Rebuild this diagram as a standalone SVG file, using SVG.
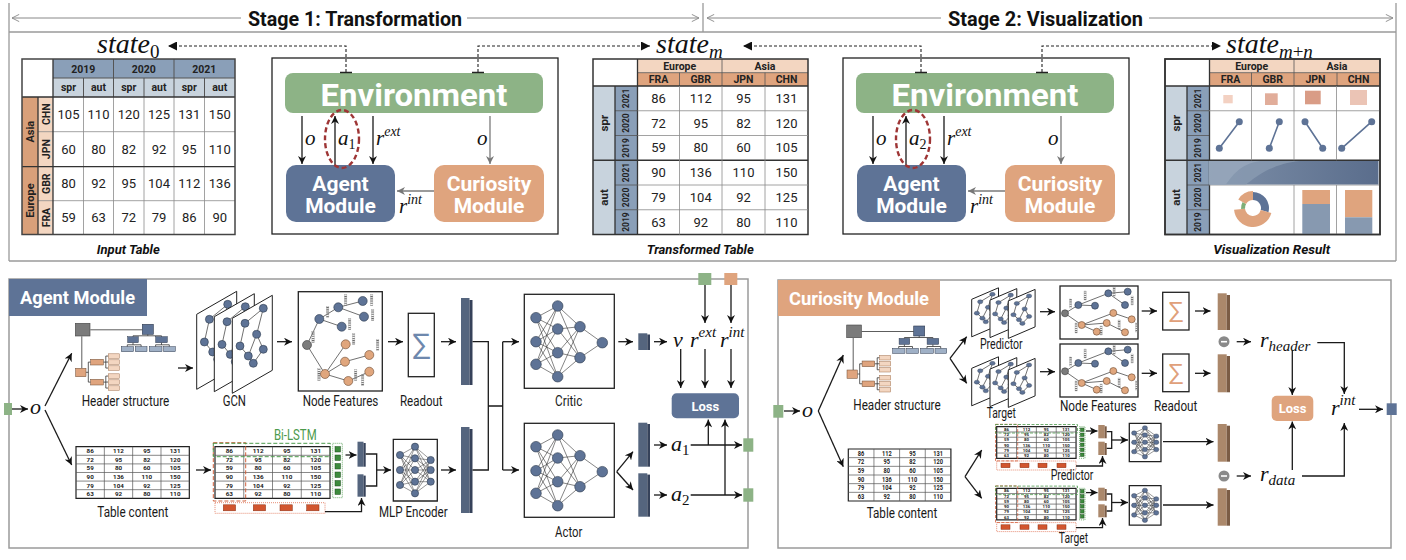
<svg xmlns="http://www.w3.org/2000/svg" width="1406" height="560" viewBox="0 0 1406 560">
<style>
text{font-family:Roboto,"Liberation Sans",Arial,sans-serif}
.lbl{font-size:14px;fill:#1a1a1a;text-anchor:middle}
.cap{font-size:13.5px;font-weight:bold;font-style:italic;fill:#111;text-anchor:middle}
.m{font-family:"Liberation Serif","DejaVu Serif",serif;font-style:italic;fill:#111}
.up{font-style:normal}
.ln{stroke:#1a1a1a;stroke-width:1.3;fill:none}
.lng{stroke:#7a7a7a;stroke-width:1.3;fill:none}
.dsh{stroke:#222;stroke-width:1.1;fill:none;stroke-dasharray:3 2}
.nd{fill:#5e7396;stroke:#2e3a4e;stroke-width:0.6}
.on{fill:#e0a67d;stroke:#6b4a33;stroke-width:0.6}
.gn{fill:#7b7b7b;stroke:#3a3a3a;stroke-width:0.6}
.ed{stroke:#333;stroke-width:0.7;fill:none}
.bx{fill:#fff;stroke:#222;stroke-width:1.3}
.sb{fill:#55657e}
.sbd{fill:#36425a}
.bb{fill:#ab886b}
.bbd{fill:#7b5c45}
.tn{font-size:13px;text-anchor:middle;fill:#222}
.th{font-size:10.5px;font-weight:bold;text-anchor:middle;fill:#222}
.yr{font-size:8.5px;font-weight:bold;text-anchor:middle;fill:#222}
.tt{font-size:6.3px;font-weight:bold;text-anchor:middle;fill:#222}
.wt{fill:#fff;font-weight:bold;text-anchor:middle}
.hb{fill:url(#hp);stroke:#999;stroke-width:0.3}
.gl{stroke:#8a8a8a;stroke-width:0.8;fill:none}
.dl{stroke:#333;stroke-width:1.3;fill:none}
.frame{stroke:#9a9a9a;stroke-width:1.3;fill:none}
.gsq{fill:#8db386}
.rd{fill:none;stroke:#d0603c;stroke-width:1;stroke-dasharray:4 2}
.gd{fill:none;stroke:#4c9a4c;stroke-width:1;stroke-dasharray:4 2}
.rds{fill:none;stroke:#d0603c;stroke-width:0.8;stroke-dasharray:3 1.5}
.gds{fill:none;stroke:#4c9a4c;stroke-width:0.8;stroke-dasharray:3 1.5}
.gdot{fill:none;stroke:#4c9a4c;stroke-width:0.8;stroke-dasharray:1 1}
.rdot{fill:none;stroke:#e07050;stroke-width:0.8;stroke-dasharray:1 1}
.gs{fill:#3d8b3d;stroke:#1d4d1d;stroke-width:0.5}
.rs{fill:#d2552e;stroke:#8a2e12;stroke-width:0.5}
</style>
<defs>
<marker id="ah" viewBox="0 0 10 10" refX="10" refY="5" markerWidth="8" markerHeight="8" markerUnits="userSpaceOnUse" orient="auto"><path d="M0,0L10,5L0,10L3,5z" fill="#111"/></marker>
<marker id="ahg" viewBox="0 0 10 10" refX="10" refY="5" markerWidth="8" markerHeight="8" markerUnits="userSpaceOnUse" orient="auto"><path d="M0,0L10,5L0,10L3,5z" fill="#777"/></marker>
<marker id="ahs" viewBox="0 0 10 10" refX="10" refY="5" markerWidth="9" markerHeight="9" markerUnits="userSpaceOnUse" orient="auto"><path d="M0,0L10,5L0,10z" fill="#111"/></marker>
<marker id="chev" viewBox="0 0 10 10" refX="9" refY="5" markerWidth="9" markerHeight="9" markerUnits="userSpaceOnUse" orient="auto-start-reverse"><path d="M1,1L9,5L1,9" fill="none" stroke="#888" stroke-width="1"/></marker>
<pattern id="hp" width="3" height="2.2" patternUnits="userSpaceOnUse"><rect width="3" height="1.1" fill="#666"/></pattern>
<linearGradient id="band" x1="0" y1="0" x2="1" y2="0"><stop offset="0" stop-color="#7d8fa8"/><stop offset="1" stop-color="#5a6d8c"/></linearGradient>

<g id="envBody">
 <rect x="272" y="58" width="286" height="176" fill="#fff" stroke="#222" stroke-width="1.3"/>
 <rect x="285" y="73" width="258" height="40" rx="8" fill="#8db386"/>
 <text x="414" y="105.5" class="wt" font-size="32" textLength="187" lengthAdjust="spacingAndGlyphs">Environment</text>
 <rect x="286" y="165" width="109" height="57" rx="10" fill="#5e7396"/>
 <text x="340.5" y="191" class="wt" font-size="21">Agent</text>
 <text x="340.5" y="213" class="wt" font-size="21">Module</text>
 <rect x="434" y="165" width="110" height="57" rx="10" fill="#dfa47e"/>
 <text x="489" y="191" class="wt" font-size="21">Curiosity</text>
 <text x="489" y="213" class="wt" font-size="21">Module</text>
 <path d="M302,116V164" class="ln" marker-end="url(#ah)"/>
 <path d="M335,165V116" class="ln" marker-end="url(#ah)"/>
 <path d="M373,116V164" class="ln" marker-end="url(#ah)"/>
 <path d="M490,116V164" class="lng" marker-end="url(#ahg)"/>
 <path d="M434,191H397" class="lng" marker-end="url(#ahg)"/>
 <text class="m" x="305" y="145" font-size="21">o</text>
 <text class="m" x="376" y="145" font-size="21">r<tspan font-size="14" dy="-9">ext</tspan></text>
 <text class="m" x="477" y="145" font-size="21">o</text>
 <text class="m" x="399" y="213" font-size="21">r<tspan font-size="14" dy="-9">int</tspan></text>
 <ellipse cx="342" cy="139" rx="17" ry="29" fill="none" stroke="#9e3535" stroke-width="2.4" stroke-dasharray="5 3"/>
</g>

<g id="tframe">
 <rect x="593" y="59" width="215" height="175.5" fill="#fff"/>
 <rect x="637.5" y="59" width="170.5" height="13.7" fill="#f3d6c1"/>
 <rect x="637.5" y="72.7" width="170.5" height="13.3" fill="#dfa47e"/>
 <rect x="593" y="86" width="22" height="148.5" fill="#c8d3dd"/>
 <rect x="615" y="86" width="22.5" height="148.5" fill="#8a9fb8"/>
 <path d="M637.5,72.7H808M722,59V86M679.5,72.7V86M765,72.7V86M615,110.75H637.5M615,135.5H637.5M615,185H637.5M615,209.75H637.5" stroke="#555" stroke-width="0.8"/>
 <path d="M593,86H808M593,160.25H808M615,86V234.5M637.5,59V234.5" class="dl"/>
 <rect x="593" y="59" width="215" height="175.5" fill="none" stroke="#333" stroke-width="1.5"/>
 <text class="th" x="679.75" y="69.8">Europe</text>
 <text class="th" x="765" y="69.8">Asia</text>
 <text class="th" x="658.5" y="83.2">FRA</text>
 <text class="th" x="700.75" y="83.2">GBR</text>
 <text class="th" x="743.5" y="83.2">JPN</text>
 <text class="th" x="786.5" y="83.2">CHN</text>
 <text class="yr" transform="translate(629.3,98.4) rotate(-90)">2021</text>
 <text class="yr" transform="translate(629.3,123.1) rotate(-90)">2020</text>
 <text class="yr" transform="translate(629.3,147.9) rotate(-90)">2019</text>
 <text class="yr" transform="translate(629.3,172.6) rotate(-90)">2021</text>
 <text class="yr" transform="translate(629.3,197.4) rotate(-90)">2020</text>
 <text class="yr" transform="translate(629.3,222.1) rotate(-90)">2019</text>
 <text class="th" style="font-size:11.5px" transform="translate(608,123.1) rotate(-90)">spr</text>
 <text class="th" style="font-size:11.5px" transform="translate(608,197.4) rotate(-90)">aut</text>
</g>

<g id="htree">
 <path d="M15,6.5H67M6.5,13V45M72.5,11V12.5M57.7,12.5H86.2M57.7,12.5V13.5M86.2,12.5V13.5M57.7,19.4V21.5M52,21.5H65.8M52,21.5V23.4M65.8,21.5V23.4M86.2,19.4V21.5M80.3,21.5H94M80.3,21.5V23.4M94,21.5V23.4M10.7,49H13M13,38.8V58.8M13,38.8H15.4M13,58.8H15.4M28,38.8H30.5M30.5,32.75V44.75M30.5,32.75H33M30.5,38.75H33M30.5,44.75H33M28,58.8H30.5M30.5,52.75V64.75M30.5,52.75H33M30.5,58.75H33M30.5,64.75H33" stroke="#333" stroke-width="0.8" fill="none"/>
 <rect x="0" y="0" width="14.7" height="12.7" fill="#7b7b7b" stroke="#444" stroke-width="0.6"/>
 <rect x="67" y="1" width="11" height="10" fill="#5e7396" stroke="#2e3a4e" stroke-width="0.6"/>
 <rect x="52.4" y="13.4" width="10.6" height="6" fill="#5e7396" stroke="#2e3a4e" stroke-width="0.5"/>
 <rect x="80.4" y="13.4" width="11.6" height="6" fill="#5e7396" stroke="#2e3a4e" stroke-width="0.5"/>
 <g fill="#9fb0c6" stroke="#2e3a4e" stroke-width="0.5">
  <rect x="46" y="23.4" width="12.3" height="5"/><rect x="60" y="23.4" width="11.7" height="5"/><rect x="74" y="23.4" width="12.7" height="5"/><rect x="88.3" y="23.4" width="11.7" height="5"/>
 </g>
 <rect x="0.3" y="45" width="10.4" height="8.4" fill="#dfa47e" stroke="#6b4a33" stroke-width="0.5"/>
 <rect x="15.4" y="36" width="12.6" height="5.7" fill="#dfa47e" stroke="#6b4a33" stroke-width="0.5"/>
 <rect x="15.4" y="56" width="12.6" height="5.7" fill="#dfa47e" stroke="#6b4a33" stroke-width="0.5"/>
 <g fill="#f3d6c1" stroke="#a0704f" stroke-width="0.5">
  <rect x="33" y="30.5" width="11" height="4.5"/><rect x="33" y="36.5" width="11" height="4.5"/><rect x="33" y="42.5" width="11" height="4.5"/>
  <rect x="33" y="50.5" width="11" height="4.5"/><rect x="33" y="56.5" width="11" height="4.5"/><rect x="33" y="62.5" width="11" height="4.5"/>
 </g>
</g>

<g id="sheet">
 <polygon points="0,23 40,0 40,75 0,98" fill="#fff" stroke="#222" stroke-width="1" vector-effect="non-scaling-stroke"/>
 <path d="M31,13L12.7,28M31,13L24.4,39M12.7,28L7.7,50.7M24.4,39L31,54M24.4,39L16,60.7M7.7,50.7L16,60.7M16,60.7L21,68M31,54L21,68" class="ed" vector-effect="non-scaling-stroke"/>
 <g class="nd"><circle cx="31" cy="13" r="4"/><circle cx="12.7" cy="28" r="4"/><circle cx="24.4" cy="39" r="4"/><circle cx="7.7" cy="50.7" r="4"/><circle cx="31" cy="54" r="4"/><circle cx="16" cy="60.7" r="4"/><circle cx="21" cy="68" r="4"/></g>
</g>

<g id="nf">
 <rect x="0" y="0" width="84" height="99.3" class="bx"/>
 <path d="M8.7,53.3L21,27.3M8.7,53.3L26.7,82.3M21,27.3L40,15.6M21,27.3L43.4,35M40,15.6L64.4,9.3M40,15.6L65.7,25M26.7,82.3L47.4,52.6M26.7,82.3L46.7,70M26.7,82.3L50,89.3M46.7,70L71,63.3M50,89.3L71,80" class="ed"/>
 <g class="hb"><rect x="13.5" y="40" width="2.6" height="11"/><rect x="28" y="15" width="2.6" height="11"/><rect x="46" y="3" width="2.6" height="11"/><rect x="50" y="27" width="2.6" height="11"/><rect x="72" y="3" width="2.6" height="11"/><rect x="73" y="18" width="2.6" height="11"/><rect x="19.4" y="77" width="2.6" height="12"/><rect x="54" y="42" width="2.6" height="11"/><rect x="78" y="48" width="2.6" height="11"/><rect x="56" y="78" width="2.6" height="11"/><rect x="63" y="83" width="2.6" height="11"/></g>
 <circle cx="8.7" cy="53.3" r="4.5" class="gn"/>
 <g class="nd"><circle cx="21" cy="27.3" r="4.5"/><circle cx="40" cy="15.6" r="4.5"/><circle cx="43.4" cy="35" r="4.5"/><circle cx="64.4" cy="9.3" r="4.5"/><circle cx="65.7" cy="25" r="4.5"/></g>
 <g class="on"><circle cx="26.7" cy="82.3" r="4.5"/><circle cx="47.4" cy="52.6" r="4.5"/><circle cx="50" cy="89.3" r="4.5"/><circle cx="46.7" cy="70" r="4.5"/><circle cx="71" cy="63.3" r="4.5"/><circle cx="71" cy="80" r="4.5"/></g>
</g>

<g id="nfs">
 <rect x="0" y="0" width="78" height="53" class="bx"/>
 <path d="M5,27.3L18.3,19M5,27.3L21.7,39M18.3,19L35,19.7M18.3,19L48.3,7.3M48.3,7.3L67.7,5.7M48.3,7.3L65,19M21.7,39L53.3,27M21.7,39L46.7,37M21.7,39L36.7,45.7M53.3,27L71.7,33.3M46.7,37L65,46.3" class="ed"/>
 <g class="hb"><rect x="9.5" y="13" width="2.2" height="9"/><rect x="24" y="5" width="2.2" height="9"/><rect x="53" y="1.5" width="2.2" height="9"/><rect x="71" y="10" width="2.2" height="9"/><rect x="15" y="37" width="2.2" height="10"/><rect x="58" y="34" width="2.2" height="9"/><rect x="75.5" y="37" width="2.2" height="9"/><rect x="40" y="40" width="2.2" height="9"/></g>
 <circle cx="5" cy="27.3" r="3.5" class="gn"/>
 <g class="nd"><circle cx="18.3" cy="19" r="3.5"/><circle cx="35" cy="19.7" r="3.5"/><circle cx="48.3" cy="7.3" r="3.5"/><circle cx="65" cy="19" r="3.5"/><circle cx="67.7" cy="5.7" r="3.5"/></g>
 <g class="on"><circle cx="21.7" cy="39" r="3.5"/><circle cx="36.7" cy="45.7" r="3.5"/><circle cx="53.3" cy="27" r="3.5"/><circle cx="46.7" cy="37" r="3.5"/><circle cx="71.7" cy="33.3" r="3.5"/><circle cx="65" cy="46.3" r="3.5"/></g>
</g>

<g id="dtab">
 <rect x="0" y="0" width="114" height="52" fill="#fff" stroke="#222" stroke-width="1.2" vector-effect="non-scaling-stroke"/>
 <path d="M28.5,0V52M57,0V52M85.5,0V52M0,8.67H114M0,17.33H114M0,26H114M0,34.67H114M0,43.33H114" stroke="#555" stroke-width="0.7" vector-effect="non-scaling-stroke"/>
 <g class="tt">
  <text x="14.25" y="6.6">86</text><text x="42.75" y="6.6">112</text><text x="71.25" y="6.6">95</text><text x="99.75" y="6.6">131</text>
  <text x="14.25" y="15.3">72</text><text x="42.75" y="15.3">95</text><text x="71.25" y="15.3">82</text><text x="99.75" y="15.3">120</text>
  <text x="14.25" y="23.9">59</text><text x="42.75" y="23.9">80</text><text x="71.25" y="23.9">60</text><text x="99.75" y="23.9">105</text>
  <text x="14.25" y="32.6">90</text><text x="42.75" y="32.6">136</text><text x="71.25" y="32.6">110</text><text x="99.75" y="32.6">150</text>
  <text x="14.25" y="41.3">79</text><text x="42.75" y="41.3">104</text><text x="71.25" y="41.3">92</text><text x="99.75" y="41.3">125</text>
  <text x="14.25" y="49.9">63</text><text x="42.75" y="49.9">92</text><text x="71.25" y="49.9">80</text><text x="99.75" y="49.9">110</text>
 </g>
</g>

<g id="mlp">
 <rect x="0" y="0" width="44" height="61.7" fill="#fff" stroke="#222" stroke-width="1.3" vector-effect="non-scaling-stroke"/>
 <path d="M6.7,15.7L21.7,7.4M6.7,15.7L21.7,19M6.7,15.7L21.7,30.7M6.7,15.7L21.7,42.4M6.7,15.7L21.7,54M6.7,30.7L21.7,7.4M6.7,30.7L21.7,19M6.7,30.7L21.7,30.7M6.7,30.7L21.7,42.4M6.7,30.7L21.7,54M6.7,45.7L21.7,7.4M6.7,45.7L21.7,19M6.7,45.7L21.7,30.7M6.7,45.7L21.7,42.4M6.7,45.7L21.7,54M21.7,7.4L37.4,20.7M21.7,7.4L37.4,30.7M21.7,7.4L37.4,42.4M21.7,19L37.4,20.7M21.7,19L37.4,30.7M21.7,19L37.4,42.4M21.7,30.7L37.4,20.7M21.7,30.7L37.4,30.7M21.7,30.7L37.4,42.4M21.7,42.4L37.4,20.7M21.7,42.4L37.4,30.7M21.7,42.4L37.4,42.4M21.7,54L37.4,20.7M21.7,54L37.4,30.7M21.7,54L37.4,42.4" stroke="#333" stroke-width="0.5" fill="none" vector-effect="non-scaling-stroke"/>
 <g class="nd"><circle cx="6.7" cy="15.7" r="3.6"/><circle cx="6.7" cy="30.7" r="3.6"/><circle cx="6.7" cy="45.7" r="3.6"/><circle cx="21.7" cy="7.4" r="3.6"/><circle cx="21.7" cy="19" r="3.6"/><circle cx="21.7" cy="30.7" r="3.6"/><circle cx="21.7" cy="42.4" r="3.6"/><circle cx="21.7" cy="54" r="3.6"/><circle cx="37.4" cy="20.7" r="3.6"/><circle cx="37.4" cy="30.7" r="3.6"/><circle cx="37.4" cy="42.4" r="3.6"/></g>
</g>

<g id="nnet">
 <rect x="0" y="0" width="90" height="94" class="bx"/>
 <path d="M11.7,23.4L33.4,11.7M11.7,23.4L33.4,34.7M11.7,23.4L33.4,58.4M11.7,23.4L33.4,82.4M11.7,47.4L33.4,11.7M11.7,47.4L33.4,34.7M11.7,47.4L33.4,58.4M11.7,47.4L33.4,82.4M11.7,70L33.4,11.7M11.7,70L33.4,34.7M11.7,70L33.4,58.4M11.7,70L33.4,82.4M33.4,11.7L55.7,32.4M33.4,11.7L55.7,63.4M33.4,34.7L55.7,32.4M33.4,34.7L55.7,63.4M33.4,58.4L55.7,32.4M33.4,58.4L55.7,63.4M33.4,82.4L55.7,32.4M33.4,82.4L55.7,63.4M55.7,32.4L78,48.4M55.7,63.4L78,48.4" stroke="#333" stroke-width="0.6" fill="none"/>
 <g class="nd"><circle cx="11.7" cy="23.4" r="5.3"/><circle cx="11.7" cy="47.4" r="5.3"/><circle cx="11.7" cy="70" r="5.3"/><circle cx="33.4" cy="11.7" r="5.3"/><circle cx="33.4" cy="34.7" r="5.3"/><circle cx="33.4" cy="58.4" r="5.3"/><circle cx="33.4" cy="82.4" r="5.3"/><circle cx="55.7" cy="32.4" r="5.3"/><circle cx="55.7" cy="63.4" r="5.3"/><circle cx="78" cy="48.4" r="5.3"/></g>
</g>
</defs>

<rect width="1406" height="560" fill="#fff"/>

<!-- Top frame and stage headers -->
<g id="top-frame">
 <path d="M9,3V261M1396,3V261M9,32H1396M703,3V32M9,261H1396" class="frame"/>
 <path d="M12,18H241" stroke="#888" stroke-width="1" marker-start="url(#chev)"/>
 <path d="M467,18H699" stroke="#888" stroke-width="1" marker-end="url(#chev)"/>
 <path d="M707,18H941" stroke="#888" stroke-width="1" marker-start="url(#chev)"/>
 <path d="M1149,18H1393" stroke="#888" stroke-width="1" marker-end="url(#chev)"/>
 <text x="355" y="25.5" font-size="21" font-weight="bold" fill="#111" text-anchor="middle" textLength="214" lengthAdjust="spacingAndGlyphs">Stage 1: Transformation</text>
 <text x="1045.5" y="25.5" font-size="21" font-weight="bold" fill="#111" text-anchor="middle" textLength="195" lengthAdjust="spacingAndGlyphs">Stage 2: Visualization</text>
</g>

<!-- state labels -->
<g id="states">
 <text class="m" x="97" y="53" font-size="28">state<tspan class="up" font-size="19" dy="5">0</tspan></text>
 <text class="m" x="656" y="53" font-size="28">state<tspan font-size="19" dy="5">m</tspan></text>
 <text class="m" x="1226" y="53" font-size="28">state<tspan font-size="19" dy="5">m<tspan class="up">+</tspan>n</tspan></text>
</g>

<!-- Input table -->
<g id="input-table">
 <rect x="22" y="59" width="213" height="175.5" fill="#fff"/>
 <rect x="53" y="59" width="182" height="19" fill="#8a9fb8"/>
 <rect x="53" y="78" width="182" height="19" fill="#c8d3dd"/>
 <rect x="22" y="97" width="16" height="137.5" fill="#d9a07a"/>
 <rect x="38" y="97" width="15" height="137.5" fill="#f3d6c1"/>
 <path d="M83.5,97V234.5M113.5,97V234.5M144,97V234.5M174,97V234.5M204.5,97V234.5M38,131.7H235M38,200.7H235" class="gl"/>
 <path d="M83.5,78V97M113.5,59V97M144,78V97M174,59V97M204.5,78V97M53,78H235" stroke="#555" stroke-width="1"/>
 <path d="M22,97H235M53,59V234.5M38,97V234.5M22,166.7H235" class="dl"/>
 <rect x="22" y="59" width="213" height="175.5" fill="none" stroke="#444" stroke-width="1.5"/>
 <text class="th" x="83.25" y="72.5">2019</text><text class="th" x="143.75" y="72.5">2020</text><text class="th" x="204.25" y="72.5">2021</text>
 <text class="th" x="68.5" y="91.3">spr</text><text class="th" x="98.5" y="91.3">aut</text><text class="th" x="128.75" y="91.3">spr</text><text class="th" x="159" y="91.3">aut</text><text class="th" x="189.25" y="91.3">spr</text><text class="th" x="219.75" y="91.3">aut</text>
 <text class="th" transform="translate(49.5,114.2) rotate(-90)">CHN</text>
 <text class="th" transform="translate(49.5,149.2) rotate(-90)">JPN</text>
 <text class="th" transform="translate(49.5,183.7) rotate(-90)">GBR</text>
 <text class="th" transform="translate(49.5,217.6) rotate(-90)">FRA</text>
 <text class="th" style="font-size:11px" transform="translate(34,131.7) rotate(-90)">Asia</text>
 <text class="th" style="font-size:11px" transform="translate(34,200.6) rotate(-90)">Europe</text>
 <g class="tn">
  <text x="68.5" y="118.8">105</text><text x="98.5" y="118.8">110</text><text x="128.75" y="118.8">120</text><text x="159" y="118.8">125</text><text x="189.25" y="118.8">131</text><text x="219.75" y="118.8">150</text>
  <text x="68.5" y="153.8">60</text><text x="98.5" y="153.8">80</text><text x="128.75" y="153.8">82</text><text x="159" y="153.8">92</text><text x="189.25" y="153.8">95</text><text x="219.75" y="153.8">110</text>
  <text x="68.5" y="188.3">80</text><text x="98.5" y="188.3">92</text><text x="128.75" y="188.3">95</text><text x="159" y="188.3">104</text><text x="189.25" y="188.3">112</text><text x="219.75" y="188.3">136</text>
  <text x="68.5" y="222.2">59</text><text x="98.5" y="222.2">63</text><text x="128.75" y="222.2">72</text><text x="159" y="222.2">79</text><text x="189.25" y="222.2">86</text><text x="219.75" y="222.2">90</text>
 </g>
 <text class="cap" x="128.3" y="254" textLength="63" lengthAdjust="spacingAndGlyphs">Input Table</text>
</g>

<!-- Environment stage 1 -->
<g id="env-stage1">
 <use href="#envBody"/>
 <text class="m" x="338" y="145" font-size="21">a<tspan class="up" font-size="14" dy="4">1</tspan></text>
</g>

<!-- Transformed table -->
<g id="transformed-table">
 <use href="#tframe"/>
 <path d="M679.5,86V234.5M722,86V234.5M765,86V234.5M637.5,110.75H808M637.5,135.5H808M637.5,185H808M637.5,209.75H808" class="gl"/>
 <g class="tn">
  <text x="658.5" y="102.9">86</text><text x="700.75" y="102.9">112</text><text x="743.5" y="102.9">95</text><text x="786.5" y="102.9">131</text>
  <text x="658.5" y="127.6">72</text><text x="700.75" y="127.6">95</text><text x="743.5" y="127.6">82</text><text x="786.5" y="127.6">120</text>
  <text x="658.5" y="152.4">59</text><text x="700.75" y="152.4">80</text><text x="743.5" y="152.4">60</text><text x="786.5" y="152.4">105</text>
  <text x="658.5" y="177.1">90</text><text x="700.75" y="177.1">136</text><text x="743.5" y="177.1">110</text><text x="786.5" y="177.1">150</text>
  <text x="658.5" y="201.9">79</text><text x="700.75" y="201.9">104</text><text x="743.5" y="201.9">92</text><text x="786.5" y="201.9">125</text>
  <text x="658.5" y="226.6">63</text><text x="700.75" y="226.6">92</text><text x="743.5" y="226.6">80</text><text x="786.5" y="226.6">110</text>
 </g>
 <text class="cap" x="700.3" y="254" textLength="107" lengthAdjust="spacingAndGlyphs">Transformed Table</text>
</g>

<!-- Environment stage 2 -->
<g id="env-stage2">
 <use href="#envBody" transform="translate(571,0)"/>
 <text class="m" x="909" y="145" font-size="21">a<tspan class="up" font-size="14" dy="4">2</tspan></text>
</g>

<!-- Visualization result -->
<g id="visualization-table">
 <use href="#tframe" transform="translate(572,0)"/>
 <path d="M1251.5,86V160.25M1294,86V160.25M1336.5,86V160.25M1294,185V234.5M1336.5,185V234.5M1209,110.75H1380M1209,185H1380" class="gl"/>
 <rect x="1223.3" y="95" width="9.4" height="8.3" fill="#f3d1c2"/>
 <rect x="1265" y="93.3" width="12.7" height="11.7" fill="#e1ad9a"/>
 <rect x="1305" y="90.7" width="15.7" height="13.6" fill="#d99c86"/>
 <rect x="1350" y="90" width="17" height="15" fill="#ebc4b5"/>
 <g stroke="#5e7396" stroke-width="1.6">
  <path d="M1219.3,148.3L1239.3,121.7M1269.3,148.3L1279.3,121.7M1305,121.7L1322.7,148.3M1341.7,148.3L1371.7,121.7"/>
 </g>
 <g fill="#5e7396">
  <circle cx="1219.3" cy="148.3" r="3.5"/><circle cx="1239.3" cy="121.7" r="3.5"/><circle cx="1269.3" cy="148.3" r="3.5"/><circle cx="1279.3" cy="121.7" r="3.5"/><circle cx="1305" cy="121.7" r="3.5"/><circle cx="1322.7" cy="148.3" r="3.5"/><circle cx="1341.7" cy="148.3" r="3.5"/><circle cx="1371.7" cy="121.7" r="3.5"/>
 </g>
 <rect x="1209" y="161" width="169.5" height="23.5" fill="url(#band)"/>
 <path d="M1209,161H1300C1270,164 1255,178 1246,184.5H1209z" fill="#8a9bb2" opacity="0.8"/>
 <path d="M1209,161H1260C1240,164 1232,176 1226,184.5H1209z" fill="#97a7bc" opacity="0.8"/>
 <path d="M1253,192A16,16 0 0 1 1268.45,212.14L1260.73,210.07A8,8 0 0 0 1253,200Z" fill="#5e7396"/>
 <path d="M1271.35,212.92A19,19 0 0 1 1234.07,209.66L1245.03,208.7A8,8 0 0 0 1260.73,210.07Z" fill="#dfa47e"/>
 <path d="M1241.05,209.05A12,12 0 0 1 1242.61,202L1246.07,204A8,8 0 0 0 1245.03,208.7Z" fill="#7fae78"/>
 <path d="M1238.28,199.5A17,17 0 0 1 1253,191L1253,200A8,8 0 0 0 1246.07,204Z" fill="#dfa47e"/>
 <rect x="1302.3" y="190" width="27.7" height="14" fill="#dfa47e"/>
 <rect x="1302.3" y="204" width="27.7" height="30.5" fill="#8799b0"/>
 <rect x="1345" y="190" width="27.3" height="27.3" fill="#dfa47e"/>
 <rect x="1345" y="217.3" width="27.3" height="17.2" fill="#8799b0"/>
 <rect x="1165" y="59" width="215" height="175.5" fill="none" stroke="#333" stroke-width="1.5"/>
 <text class="cap" x="1271.7" y="254" textLength="117" lengthAdjust="spacingAndGlyphs">Visualization Result</text>
</g>

<!-- top connectors -->
<g id="top-connectors">
 <path d="M346,72V46H168" class="dsh" marker-end="url(#ahs)"/>
 <path d="M478,72V46H650" class="dsh" marker-end="url(#ahs)"/>
 <path d="M921,72V46H743" class="dsh" marker-end="url(#ahs)"/>
 <path d="M1042,72V46H1221" class="dsh" marker-end="url(#ahs)"/>
 <path d="M340,72.5H352M472,72.5H484M915,72.5H927M1036,72.5H1048" stroke="#222" stroke-width="1.6"/>
</g>

<!-- Agent Module panel -->
<g id="agent-panel">
 <rect x="9" y="279" width="739" height="269" fill="#fff" stroke="#9a9a9a" stroke-width="1.5"/>
 <rect x="9" y="279" width="138" height="37" fill="#5e7396"/>
 <text x="20" y="304" fill="#fff" font-weight="bold" font-size="19" textLength="115" lengthAdjust="spacingAndGlyphs">Agent Module</text>
</g>

<g id="agent-input">
 <rect x="4" y="403" width="8" height="12" class="gsq"/>
 <text class="m" x="30" y="414" font-size="22">o</text>
</g>
<g id="agent-header"><use href="#htree" transform="translate(75.3,323.3)"/>
 <text class="lbl" x="125.5" y="406" textLength="87.7" lengthAdjust="spacingAndGlyphs">Header structure</text></g>
<g id="agent-gcn">
 <use href="#sheet" transform="translate(196.7,291.3)"/>
 <use href="#sheet" transform="translate(214.3,293.7)"/>
 <use href="#sheet" transform="translate(232.3,295.3)"/>
 <text class="lbl" x="234.3" y="406" textLength="23.3" lengthAdjust="spacingAndGlyphs">GCN</text>
</g>
<g id="agent-nodefeat"><use href="#nf" transform="translate(298.3,291.7)"/>
 <text class="lbl" x="340.5" y="406" textLength="75.7" lengthAdjust="spacingAndGlyphs">Node Features</text></g>
<g id="agent-readout">
 <rect x="408.3" y="313.3" width="26" height="63.4" class="bx"/>
 <text x="421.3" y="355" font-family="'DejaVu Serif','Liberation Serif',serif" font-size="30" fill="#6e88ad" text-anchor="middle">∑</text>
 <text class="lbl" x="421.3" y="406" textLength="42.7" lengthAdjust="spacingAndGlyphs">Readout</text>
</g>
<g id="agent-bars">
 <rect x="461" y="298" width="8.5" height="87" class="sb"/><rect x="469.5" y="300" width="3" height="85" class="sbd"/>
 <rect x="461" y="427" width="8.5" height="86" class="sb"/><rect x="469.5" y="429" width="3" height="84" class="sbd"/>
</g>
<g id="agent-table"><use href="#dtab" transform="translate(76,446.7) scale(0.994,0.992)"/>
 <text class="lbl" x="132.8" y="517" textLength="71" lengthAdjust="spacingAndGlyphs">Table content</text></g>
<g id="agent-bilstm">
 <use href="#dtab" transform="translate(215,446.7) scale(1.009,0.992)"/>
 <rect x="213.3" y="442.7" width="32.4" height="58.3" class="rd"/>
 <rect x="213.3" y="443.3" width="117" height="13.4" class="gd"/>
 <text x="295.3" y="440" font-size="14" fill="#4c9a4c" text-anchor="middle" textLength="42.7" lengthAdjust="spacingAndGlyphs">Bi-LSTM</text>
 <rect x="332.7" y="443.3" width="9.6" height="54.4" class="gdot"/>
 <rect x="335" y="446.5" width="5.5" height="5.5" class="gs"/><rect x="335" y="455" width="5.5" height="5.5" class="gs"/><rect x="335" y="463.5" width="5.5" height="5.5" class="gs"/><rect x="335" y="472" width="5.5" height="5.5" class="gs"/><rect x="335" y="480.5" width="5.5" height="5.5" class="gs"/><rect x="335" y="489" width="5.5" height="5.5" class="gs"/>
 <rect x="215" y="502.7" width="110" height="10.6" class="rdot"/>
 <rect x="223.3" y="504.8" width="12.3" height="6" class="rs"/><rect x="253.3" y="504.8" width="12.3" height="6" class="rs"/><rect x="280" y="504.8" width="12.3" height="6" class="rs"/><rect x="306.7" y="504.8" width="12.3" height="6" class="rs"/>
 <rect x="357.5" y="441.7" width="6" height="25" class="sb"/><rect x="363.5" y="443" width="2.2" height="23.7" class="sbd"/>
 <rect x="357.5" y="474.3" width="6" height="22.4" class="sb"/><rect x="363.5" y="475.6" width="2.2" height="21.1" class="sbd"/>
</g>
<g id="agent-mlp"><use href="#mlp" transform="translate(393.3,439.3)"/>
 <text class="lbl" x="413.3" y="517" textLength="68.7" lengthAdjust="spacingAndGlyphs">MLP Encoder</text></g>
<g id="critic"><use href="#nnet" transform="translate(524.3,294.3)"/>
 <text class="lbl" x="568.7" y="406" textLength="27.3" lengthAdjust="spacingAndGlyphs">Critic</text></g>
<g id="actor"><use href="#nnet" transform="translate(524.3,423.3)"/>
 <text class="lbl" x="568.7" y="537" textLength="27.3" lengthAdjust="spacingAndGlyphs">Actor</text></g>
<g id="agent-outputs">
 <rect x="638.3" y="333.3" width="9" height="16.7" class="sb"/><rect x="647.3" y="334.5" width="2.7" height="15.5" class="sbd"/>
 <rect x="638.3" y="422.7" width="9" height="44" class="sb"/><rect x="647.3" y="424" width="2.7" height="42.7" class="sbd"/>
 <rect x="638.3" y="473.3" width="9" height="43.4" class="sb"/><rect x="647.3" y="474.6" width="2.7" height="42.1" class="sbd"/>
 <text class="m" x="673" y="347" font-size="22">v</text>
 <text class="m" x="690" y="347" font-size="22">r<tspan font-size="15" dy="-10">ext</tspan></text>
 <text class="m" x="720" y="347" font-size="22">r<tspan font-size="15" dy="-10">int</tspan></text>
 <text class="m" x="671" y="451" font-size="22">a<tspan class="up" font-size="15" dy="4">1</tspan></text>
 <text class="m" x="671" y="501" font-size="22">a<tspan class="up" font-size="15" dy="4">2</tspan></text>
 <rect x="698.3" y="273" width="13" height="12" class="gsq"/>
 <rect x="724.3" y="273" width="13" height="12" fill="#dfa47e"/>
 <rect x="671.7" y="393.3" width="67.3" height="25" rx="5" fill="#5e7396"/>
 <text x="705.3" y="410.5" class="wt" font-size="13">Loss</text>
 <rect x="743.3" y="438.3" width="10" height="13.4" class="gsq"/>
 <rect x="743.3" y="488.3" width="10" height="13.4" class="gsq"/>
</g>

<!-- Curiosity Module panel -->
<g id="curiosity-panel">
 <rect x="778" y="280" width="613" height="268" fill="#fff" stroke="#9a9a9a" stroke-width="1.5"/>
 <rect x="778" y="280" width="162" height="36" fill="#dfa47e"/>
 <text x="789" y="305" fill="#fff" font-weight="bold" font-size="19" textLength="140" lengthAdjust="spacingAndGlyphs">Curiosity Module</text>
</g>
<g id="cur-input">
 <rect x="773.3" y="405" width="10" height="12.7" class="gsq"/>
 <text class="m" x="802" y="417" font-size="22">o</text>
</g>
<g id="cur-header"><use href="#htree" transform="translate(846.7,325)"/>
 <text class="lbl" x="897" y="410" textLength="87.4" lengthAdjust="spacingAndGlyphs">Header structure</text></g>
<g id="cur-gcn-pred">
 <use href="#sheet" transform="translate(971.7,287.8) scale(0.67,0.5)"/>
 <use href="#sheet" transform="translate(990,288.6) scale(0.67,0.5)"/>
 <use href="#sheet" transform="translate(1008.3,289.4) scale(0.67,0.5)"/>
 <text class="lbl" x="1001.3" y="349" textLength="42.7" lengthAdjust="spacingAndGlyphs">Predictor</text>
</g>
<g id="cur-gcn-target">
 <use href="#sheet" transform="translate(971.7,356.8) scale(0.67,0.5)"/>
 <use href="#sheet" transform="translate(990,357.6) scale(0.67,0.5)"/>
 <use href="#sheet" transform="translate(1008.3,358.4) scale(0.67,0.5)"/>
 <text class="lbl" x="1001.3" y="418" textLength="29.3" lengthAdjust="spacingAndGlyphs">Target</text>
</g>
<g id="cur-nodefeat">
 <use href="#nfs" transform="translate(1060,286)"/>
 <use href="#nfs" transform="translate(1060,344)"/>
 <text class="lbl" x="1098.3" y="411" textLength="76.7" lengthAdjust="spacingAndGlyphs">Node Features</text>
</g>
<g id="cur-readout">
 <rect x="1162.7" y="292.3" width="26.3" height="37.7" class="bx"/>
 <rect x="1162.7" y="354" width="26.3" height="37.7" class="bx"/>
 <text x="1175.8" y="319" font-family="'DejaVu Serif','Liberation Serif',serif" font-size="24" fill="#e0a07a" text-anchor="middle">∑</text>
 <text x="1175.8" y="381" font-family="'DejaVu Serif','Liberation Serif',serif" font-size="24" fill="#e0a07a" text-anchor="middle">∑</text>
 <text class="lbl" x="1175.7" y="411" textLength="43.3" lengthAdjust="spacingAndGlyphs">Readout</text>
</g>
<g id="cur-bars">
 <rect x="1217.7" y="293.3" width="9" height="36.7" class="bb"/><rect x="1226.7" y="295" width="3.3" height="35" class="bbd"/>
 <rect x="1217.7" y="354.3" width="9" height="38" class="bb"/><rect x="1226.7" y="356" width="3.3" height="36.3" class="bbd"/>
 <rect x="1217.7" y="424" width="9" height="37.7" class="bb"/><rect x="1226.7" y="425.7" width="3.3" height="36" class="bbd"/>
 <rect x="1217.7" y="488.3" width="9" height="37.4" class="bb"/><rect x="1226.7" y="490" width="3.3" height="35.7" class="bbd"/>
 <circle cx="1224" cy="341.7" r="5.5" fill="#8a8a8a"/><path d="M1221,341.7H1227" stroke="#fff" stroke-width="1.6"/>
 <circle cx="1224" cy="476" r="5.5" fill="#8a8a8a"/><path d="M1221,476H1227" stroke="#fff" stroke-width="1.6"/>
</g>
<g id="cur-table"><use href="#dtab" transform="translate(848.3,449) scale(0.9,1)"/>
 <text class="lbl" x="902" y="518" textLength="70.6" lengthAdjust="spacingAndGlyphs">Table content</text></g>
<g id="cur-lstm-pred">
 <use href="#dtab" transform="translate(996.7,426.7) scale(0.696,0.608)"/>
 <rect x="995.5" y="424.3" width="22.2" height="36.6" class="rds"/>
 <rect x="995.5" y="424.5" width="82" height="8.5" class="gds"/>
 <rect x="1079.5" y="426.7" width="5.5" height="31.6" class="gdot"/>
 <rect x="1080.5" y="428" width="3.5" height="3.5" class="gs"/><rect x="1080.5" y="433" width="3.5" height="3.5" class="gs"/><rect x="1080.5" y="438" width="3.5" height="3.5" class="gs"/><rect x="1080.5" y="443" width="3.5" height="3.5" class="gs"/><rect x="1080.5" y="448" width="3.5" height="3.5" class="gs"/><rect x="1080.5" y="453" width="3.5" height="3.5" class="gs"/>
 <rect x="996.7" y="461" width="79.3" height="9" class="rdot"/>
 <rect x="1001" y="463.2" width="9" height="4.5" class="rs"/><rect x="1020" y="463.2" width="9" height="4.5" class="rs"/><rect x="1038" y="463.2" width="9" height="4.5" class="rs"/><rect x="1057" y="463.2" width="9" height="4.5" class="rs"/>
 <rect x="1098.3" y="425" width="6.4" height="13.3" class="bb"/><rect x="1104.7" y="426.3" width="2" height="12" class="bbd"/>
 <rect x="1098.3" y="441.7" width="6.4" height="13.3" class="bb"/><rect x="1104.7" y="443" width="2" height="12" class="bbd"/>
 <use href="#mlp" transform="translate(1129.3,423.3) scale(0.72,0.62)"/>
 <text class="lbl" x="1072" y="480" textLength="42.7" lengthAdjust="spacingAndGlyphs">Predictor</text>
</g>
<g id="cur-lstm-target">
 <use href="#dtab" transform="translate(996.7,488.3) scale(0.696,0.608)"/>
 <rect x="995.5" y="485.9" width="22.2" height="36.6" class="rds"/>
 <rect x="995.5" y="486.1" width="82" height="8.5" class="gds"/>
 <rect x="1079.5" y="488.3" width="5.5" height="31.6" class="gdot"/>
 <rect x="1080.5" y="489.6" width="3.5" height="3.5" class="gs"/><rect x="1080.5" y="494.6" width="3.5" height="3.5" class="gs"/><rect x="1080.5" y="499.6" width="3.5" height="3.5" class="gs"/><rect x="1080.5" y="504.6" width="3.5" height="3.5" class="gs"/><rect x="1080.5" y="509.6" width="3.5" height="3.5" class="gs"/><rect x="1080.5" y="514.6" width="3.5" height="3.5" class="gs"/>
 <rect x="996.7" y="522.6" width="79.3" height="9" class="rdot"/>
 <rect x="1001" y="524.8" width="9" height="4.5" class="rs"/><rect x="1020" y="524.8" width="9" height="4.5" class="rs"/><rect x="1038" y="524.8" width="9" height="4.5" class="rs"/><rect x="1057" y="524.8" width="9" height="4.5" class="rs"/>
 <rect x="1098.3" y="487.7" width="6.4" height="13" class="bb"/><rect x="1104.7" y="489" width="2" height="11.7" class="bbd"/>
 <rect x="1098.3" y="504.3" width="6.4" height="13" class="bb"/><rect x="1104.7" y="505.6" width="2" height="11.7" class="bbd"/>
 <use href="#mlp" transform="translate(1129.3,485.7) scale(0.72,0.64)"/>
 <text class="lbl" x="1073.5" y="543" textLength="29.3" lengthAdjust="spacingAndGlyphs">Target</text>
</g>
<g id="cur-rewards">
 <text class="m" x="1260" y="347" font-size="22">r<tspan font-size="15" dy="4">header</tspan></text>
 <text class="m" x="1260" y="481" font-size="22">r<tspan font-size="15" dy="4">data</tspan></text>
 <rect x="1271.7" y="395.7" width="41.6" height="25.3" rx="5" fill="#dfa47e"/>
 <text x="1292.5" y="413" class="wt" font-size="13">Loss</text>
 <text class="m" x="1331" y="415" font-size="22">r<tspan font-size="15" dy="-10">int</tspan></text>
 <rect x="1386.7" y="403.3" width="10" height="11.7" fill="#5e7396"/>
</g>

<!-- connectors -->
<g id="connectors">
 <path d="M12,409H28" class="ln" marker-end="url(#ah)"/>
 <path d="M45,406L71.7,353.3" class="ln" marker-end="url(#ah)"/>
 <path d="M45,410L71.7,465" class="ln" marker-end="url(#ah)"/>
 <path d="M178,368H193" class="ln" marker-end="url(#ah)"/>
 <path d="M277,341.7H292" class="ln" marker-end="url(#ah)"/>
 <path d="M388,341.7H403" class="ln" marker-end="url(#ah)"/>
 <path d="M441,341.7H456" class="ln" marker-end="url(#ah)"/>
 <path d="M196,470H211" class="ln" marker-end="url(#ah)"/>
 <path d="M345.5,455H356.5" class="ln" marker-end="url(#ah)"/>
 <path d="M365.7,454H376.7V486H365.7" class="ln"/>
 <path d="M376.7,470H391" class="ln" marker-end="url(#ah)"/>
 <path d="M325,511.7H361.5V498" class="ln" marker-end="url(#ah)"/>
 <path d="M441,470H456" class="ln" marker-end="url(#ah)"/>
 <path d="M472.5,341.7H488.3V470H472.5M488.3,406H502.7M502.7,341.7V470" class="ln"/>
 <path d="M502.7,341.7H519" class="ln" marker-end="url(#ah)"/>
 <path d="M502.7,470H519" class="ln" marker-end="url(#ah)"/>
 <path d="M618.3,341.7H633" class="ln" marker-end="url(#ah)"/>
 <path d="M654,341.7H667" class="ln" marker-end="url(#ah)"/>
 <path d="M705,285V323" class="ln" marker-end="url(#ah)"/>
 <path d="M731,285V323" class="ln" marker-end="url(#ah)"/>
 <path d="M680.7,349V388" class="ln" marker-end="url(#ah)"/>
 <path d="M705,349V388" class="ln" marker-end="url(#ah)"/>
 <path d="M731,349V388" class="ln" marker-end="url(#ah)"/>
 <path d="M616.7,471.7L633,451.7" class="ln" marker-end="url(#ah)"/>
 <path d="M616.7,471.7L633,490" class="ln" marker-end="url(#ah)"/>
 <path d="M654,445H667" class="ln" marker-end="url(#ah)"/>
 <path d="M654,495H667" class="ln" marker-end="url(#ah)"/>
 <path d="M690.7,445H742" class="ln" marker-end="url(#ah)"/>
 <path d="M690.7,495H742" class="ln" marker-end="url(#ah)"/>
 <path d="M708.3,445V419.5" class="ln" marker-end="url(#ah)"/>
 <path d="M725,495V419.5" class="ln" marker-end="url(#ah)"/>

 <path d="M784,411H800" class="ln" marker-end="url(#ah)"/>
 <path d="M818.3,411L843.3,355" class="ln" marker-end="url(#ah)"/>
 <path d="M818.3,411L843.3,466.7" class="ln" marker-end="url(#ah)"/>
 <path d="M950,358.3L966.7,336.7" class="ln" marker-end="url(#ah)"/>
 <path d="M950,358.3L966.7,383.3" class="ln" marker-end="url(#ah)"/>
 <path d="M1040,311.7H1055" class="ln" marker-end="url(#ah)"/>
 <path d="M1040,371.7H1055" class="ln" marker-end="url(#ah)"/>
 <path d="M1141.7,311H1157" class="ln" marker-end="url(#ah)"/>
 <path d="M1141.7,373.3H1157" class="ln" marker-end="url(#ah)"/>
 <path d="M1195,311H1210.5" class="ln" marker-end="url(#ah)"/>
 <path d="M1195,373.3H1210.5" class="ln" marker-end="url(#ah)"/>
 <path d="M1236.7,341.7H1251" class="ln" marker-end="url(#ah)"/>
 <path d="M1236.7,476H1251" class="ln" marker-end="url(#ah)"/>
 <path d="M1317.3,342.7H1344.3V394" class="ln" marker-end="url(#ah)"/>
 <path d="M1292.3,350V395" class="ln" marker-end="url(#ah)"/>
 <path d="M1302,476H1344.3V423" class="ln" marker-end="url(#ah)"/>
 <path d="M1292.3,470V421.5" class="ln" marker-end="url(#ah)"/>
 <path d="M1359,409.3H1383" class="ln" marker-end="url(#ah)"/>
 <path d="M965,476.7L981.7,450" class="ln" marker-end="url(#ah)"/>
 <path d="M965,476.7L981.7,498.3" class="ln" marker-end="url(#ah)"/>
 <path d="M1086,431H1097.5" class="ln" marker-end="url(#ah)"/>
 <path d="M1086,492.6H1097.5" class="ln" marker-end="url(#ah)"/>
 <path d="M1106.7,431.7H1111.7V448.3H1106.7M1106.7,494H1111.7V511H1106.7" class="ln"/>
 <path d="M1111.7,440H1128" class="ln" marker-end="url(#ah)"/>
 <path d="M1111.7,502.5H1128" class="ln" marker-end="url(#ah)"/>
 <path d="M1076,466H1102.5V456" class="ln" marker-end="url(#ah)"/>
 <path d="M1076,527.7H1102.5V518" class="ln" marker-end="url(#ah)"/>
 <path d="M1163,441.7H1213.5" class="ln" marker-end="url(#ah)"/>
 <path d="M1163,505H1213.5" class="ln" marker-end="url(#ah)"/>
</g>
</svg>
